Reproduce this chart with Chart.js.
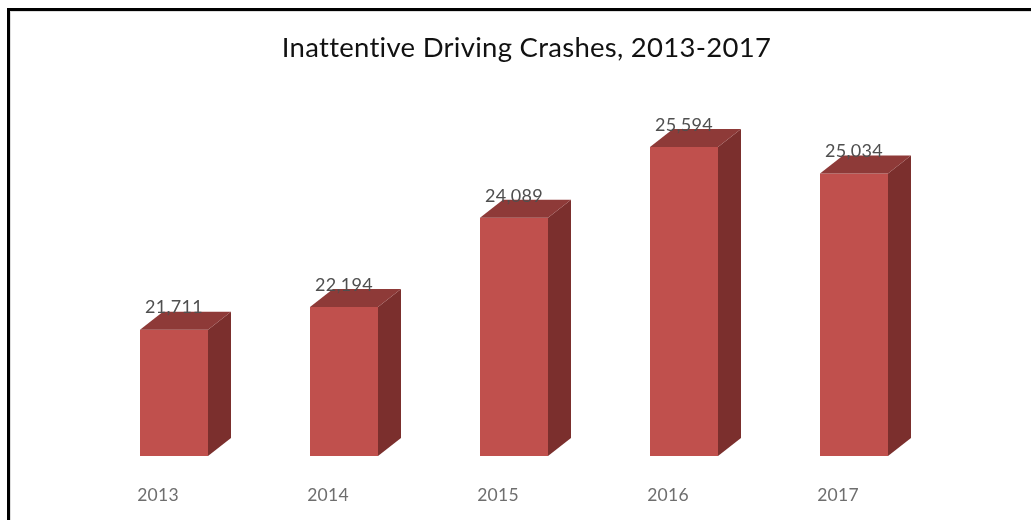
<!DOCTYPE html>
<html>
<head>
<meta charset="utf-8">
<script src="https://cdn.jsdelivr.net/npm/chart.js@4"></script>
<style>
html,body{margin:0;padding:0;background:#fff;overflow:hidden}
#wrap{position:relative;width:1031px;height:520px}
#frame{position:absolute;left:7px;top:8px;right:-10px;bottom:-10px;border-left:3px solid #000;border-top:3px solid #000;box-sizing:border-box;box-shadow:inset 1px 1px 0 #ddd}
canvas{position:absolute;left:0;top:0}
</style>
</head>
<body>
<div id="wrap"><div id="frame"></div><canvas id="c" width="1031" height="520"></canvas></div>
<script>
const categories = ['2013','2014','2015','2016','2017'];
const crashes = [21711,22194,24089,25594,25034];
const titleText = 'Inattentive Driving Crashes, 2013-2017';

const FRONT='#C0504D', TOP='#8E3A38', SIDE='#7B2F2D';
const DX=23, DY=18;

const bar3d = {
  id:'bar3d',
  afterLayout(chart){
    chart.titleBlock.left=22;
    chart.titleBlock.right=1031;
  },
  beforeDraw(chart){
    chart.ctx.letterSpacing='0.28px';
  },
  afterDatasetsDraw(chart){
    const {ctx}=chart;
    const meta=chart.getDatasetMeta(0);
    const bt=chart.scales.y.bottom;
    meta.data.forEach((b)=>{
      const l=b.x-b.width/2, r=b.x+b.width/2, t=b.y;
      ctx.fillStyle=SIDE;
      ctx.beginPath();ctx.moveTo(r,t);ctx.lineTo(r+DX,t-DY);ctx.lineTo(r+DX,bt-DY);ctx.lineTo(r,bt);ctx.closePath();ctx.fill();
      ctx.fillStyle=TOP;
      ctx.beginPath();ctx.moveTo(l,t);ctx.lineTo(l+DX,t-DY);ctx.lineTo(r+DX,t-DY);ctx.lineTo(r,t);ctx.closePath();ctx.fill();
    });
    ctx.save();
    ctx.font='18px Lato';
    ctx.fillStyle='#4f4f4f';
    ctx.textAlign='center';
    ctx.textBaseline='middle';
    meta.data.forEach((b,i)=>{
      ctx.fillText(crashes[i].toLocaleString('en-US'),b.x,b.y-22);
    });
    ctx.restore();
  }
};

new Chart(document.getElementById('c'),{
  type:'bar',
  data:{labels:categories,datasets:[{data:crashes,backgroundColor:FRONT,borderWidth:0,barPercentage:0.4,categoryPercentage:1}]},
  plugins:[bar3d],
  options:{
    responsive:false,animation:false,
    layout:{padding:{left:89,right:92,top:0,bottom:13}},
    plugins:{
      legend:{display:false},tooltip:{enabled:false},
      title:{display:true,text:titleText,color:'#111111',font:{family:'Lato',size:27.5,weight:'normal'},padding:{top:32,bottom:63}}
    },
    scales:{
      x:{grid:{display:false},border:{display:false},
         afterFit(s){s.height-=20;},
         ticks:{color:'#6e6e6e',font:{family:'Lato',size:17.5},padding:21,labelOffset:-16,maxRotation:0}},
      y:{display:false,min:19023,max:26000}
    }
  }
});
</script>
</body>
</html>
